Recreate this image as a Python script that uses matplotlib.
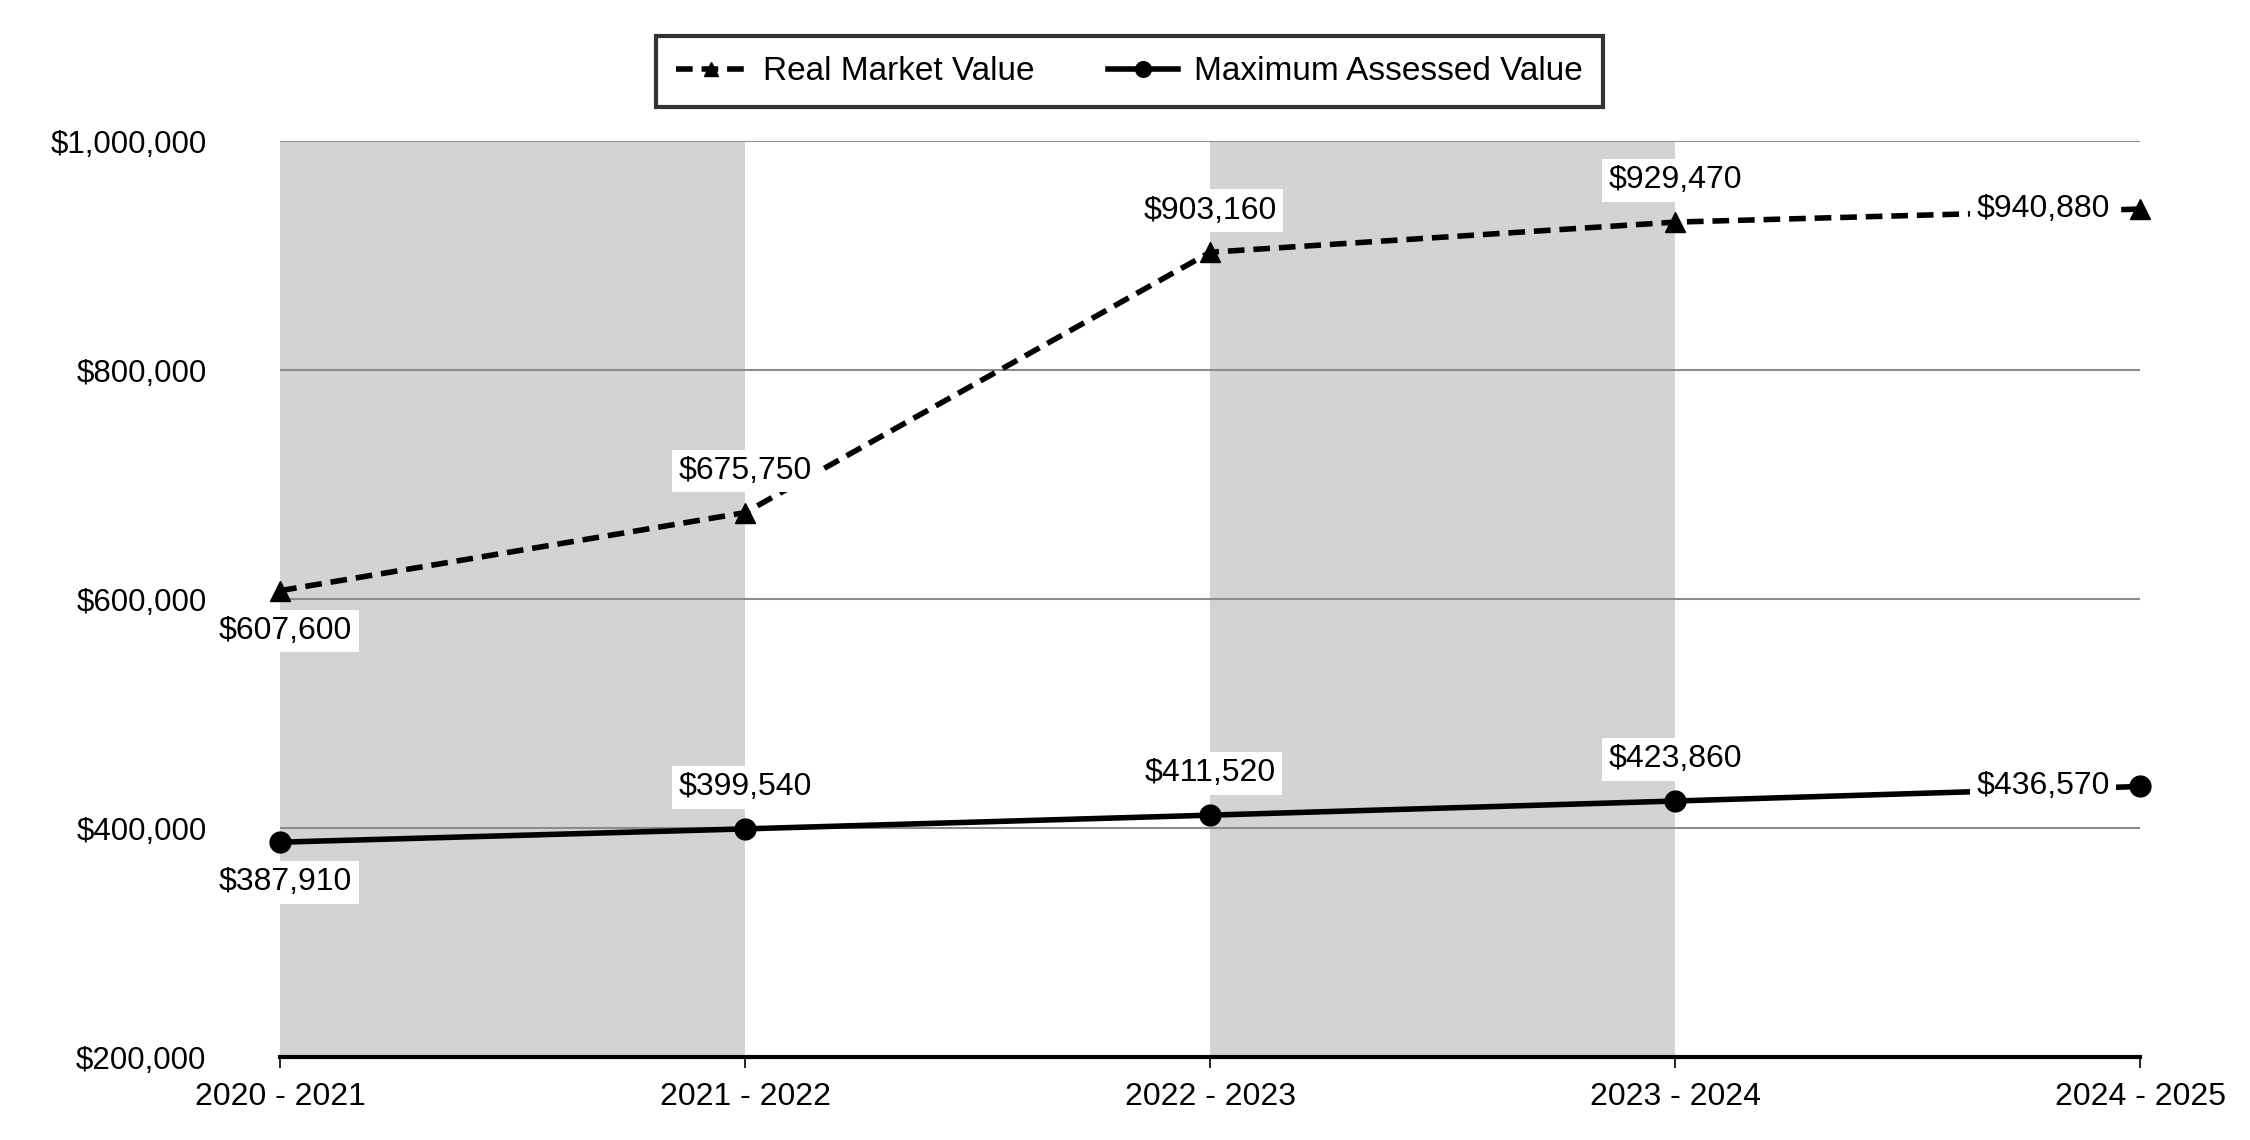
import numpy as np
import matplotlib.pyplot as plt

plt.rcParams["font.family"] = ["Liberation Sans", "DejaVu Sans"]

# data
years = ["2020 - 2021", "2021 - 2022", "2022 - 2023", "2023 - 2024", "2024 - 2025"]
real_market = [607600, 675750, 903160, 929470, 940880]
max_assessed = [387910, 399540, 411520, 423860, 436570]
y_ticks = [200000, 400000, 600000, 800000, 1000000]

# label placement per point: "below", "above", "left"
rmv_pos = ["below", "above", "above", "above", "left"]
mav_pos = ["below", "above", "above", "above", "left"]

fig = plt.figure(figsize=(22.5, 11.4), dpi=100)
ax = fig.add_axes([0.1245, 0.0725, 0.8267, 0.8035])

x = np.arange(len(years))

# alternating shaded bands
for i in range(0, len(years) - 1, 2):
    ax.axvspan(x[i], x[i + 1], color="#d3d3d3", lw=0, zorder=0)

for yt in y_ticks[1:]:
    ax.axhline(yt, color="#8c8c8c", lw=1.5, zorder=1)

ax.plot(x, real_market, color="black", lw=4, ls=(0, (3, 1.6)),
        marker="^", markersize=14, label="Real Market Value", zorder=3,
        clip_on=False)
ax.plot(x, max_assessed, color="black", lw=4, marker="o", markersize=15,
        label="Maximum Assessed Value", zorder=3, clip_on=False)


def add_labels(vals, positions):
    for xi, v, p in zip(x, vals, positions):
        if p == "above":
            off, ha, va = (0, 30), "center", "center"
        elif p == "below":
            off, ha, va = (4, -29), "center", "center"
        else:
            off, ha, va = (-22, 0), "right", "center"
        ax.annotate(f"${v:,.0f}", (xi, v), xytext=off, textcoords="offset points",
                    ha=ha, va=va, fontsize=23, zorder=4,
                    bbox=dict(boxstyle="square,pad=0.2", fc="white", ec="none"))


add_labels(real_market, rmv_pos)
add_labels(max_assessed, mav_pos)

ax.set_xlim(0, len(years) - 1)
ax.set_ylim(200000, 1000000)
ax.set_xticks(x)
ax.set_xticklabels(years, fontsize=23)
ax.set_yticks(y_ticks)
ax.set_yticklabels([f"${v:,.0f}" for v in y_ticks], fontsize=22.5)
ax.tick_params(axis="y", length=0, pad=53)
ax.tick_params(axis="x", length=8, width=1.2, pad=10, direction="out")

for s in ["top", "right", "left"]:
    ax.spines[s].set_visible(False)
ax.spines["bottom"].set_linewidth(3)
ax.spines["bottom"].set_zorder(5)

leg = fig.legend(loc="center", bbox_to_anchor=(0.502, 0.937), ncol=2,
                 fontsize=24, frameon=True, fancybox=False, edgecolor="black",
                 handlelength=2.1, columnspacing=2.2, handletextpad=0.5,
                 markerscale=0.75, borderpad=0.6, borderaxespad=0)
leg.get_frame().set_linewidth(3)

fig.savefig("out.png", dpi=100)
